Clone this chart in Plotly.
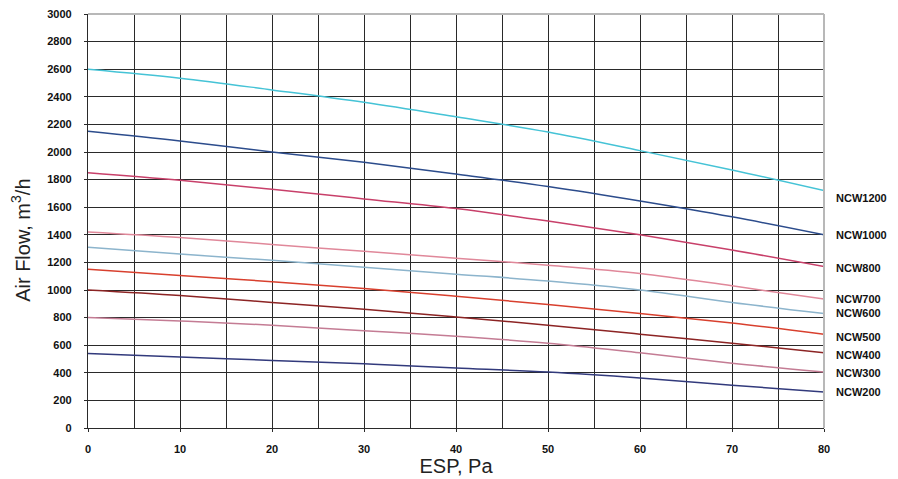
import plotly.graph_objects as go

esp = [0, 10, 20, 30, 40, 50, 60, 70, 80]

ncw1200 = [2600, 2535, 2450, 2360, 2255, 2145, 2010, 1870, 1720]
ncw1000 = [2150, 2080, 2000, 1925, 1840, 1750, 1645, 1530, 1400]
ncw800 = [1850, 1795, 1730, 1660, 1590, 1500, 1400, 1290, 1170]
ncw700 = [1420, 1380, 1330, 1280, 1230, 1180, 1120, 1030, 935]
ncw600 = [1310, 1260, 1215, 1165, 1115, 1065, 1000, 910, 830]
ncw500 = [1150, 1105, 1060, 1010, 955, 895, 830, 760, 680]
ncw400 = [1000, 960, 910, 860, 805, 745, 680, 615, 545]
ncw300 = [800, 775, 745, 705, 665, 615, 545, 470, 405]
ncw200 = [540, 515, 490, 465, 435, 405, 362, 310, 260]

series_names = ["NCW1200", "NCW1000", "NCW800", "NCW700", "NCW600",
                "NCW500", "NCW400", "NCW300", "NCW200"]
series_values = [ncw1200, ncw1000, ncw800, ncw700, ncw600,
                 ncw500, ncw400, ncw300, ncw200]

colors = ["#45c3d6", "#2c4c8c", "#c8406a", "#e0889a", "#8cb4cc",
          "#d8402e", "#8c2424", "#c47c94", "#323a7c"]
label_shift = [-7, 0, -1, 0, 0, -3, -2, -1, 0]

y_tickvals = list(range(0, 3200, 200))
FONT = "Liberation Sans, Arial"

fig = go.Figure()
for name, vals, col in zip(series_names, series_values, colors):
    fig.add_trace(go.Scatter(x=esp, y=vals, mode="lines", name=name,
                             line=dict(color=col, width=1.5),
                             line_shape="spline", showlegend=False))

for name, vals, sh in zip(series_names, series_values, label_shift):
    fig.add_annotation(x=1, xref="paper", y=vals[-1], yref="y",
                       text=name, showarrow=False, xanchor="left",
                       xshift=10, yshift=sh,
                       font=dict(family=FONT, size=11, color="#111",
                                 weight="bold"))

fig.add_annotation(x=0, xref="paper", xanchor="center", xshift=-67,
                   y=0.452, yref="paper", text="Air Flow, m<sup>3</sup>/h",
                   textangle=-90, showarrow=False,
                   font=dict(family=FONT, size=20, color="#222"))

# light frame top/right
fig.add_shape(type="line", xref="paper", yref="paper", x0=0, x1=1, y0=1, y1=1,
              line=dict(color="#b8b8b8", width=2))
fig.add_shape(type="line", xref="paper", yref="paper", x0=1, x1=1, y0=0, y1=1,
              line=dict(color="#b8b8b8", width=2))

GRID = "#2a2a2a"
fig.update_layout(
    width=890, height=471,
    margin=dict(l=80, r=74, t=6, b=51, autoexpand=False),
    paper_bgcolor="white", plot_bgcolor="white",
    font=dict(family=FONT, color="#111"),
    xaxis=dict(range=[0, 80], tick0=0, dtick=10, automargin=False,
               showgrid=True, gridcolor=GRID, gridwidth=1.3,
               minor=dict(dtick=5, showgrid=True, gridcolor=GRID, gridwidth=1.3),
               zeroline=False, showline=True, linecolor=GRID, linewidth=1.3,
               ticks="outside", ticklen=3, tickcolor=GRID,
               ticklabelstandoff=8,
               tickfont=dict(size=11, family=FONT, weight="bold"),
               title=dict(text="ESP, Pa", font=dict(size=20, color="#222"),
                          standoff=0)),
    yaxis=dict(range=[0, 3000], tickvals=y_tickvals, automargin=False,
               showgrid=True, gridcolor=GRID, gridwidth=1.3,
               zeroline=False, showline=True, linecolor=GRID, linewidth=1.3,
               ticks="outside", ticklen=3, tickcolor=GRID,
               ticklabeloverflow="allow", ticklabelstandoff=10,
               tickfont=dict(size=11, family=FONT, weight="bold")),
)

fig.write_html("out.html")
